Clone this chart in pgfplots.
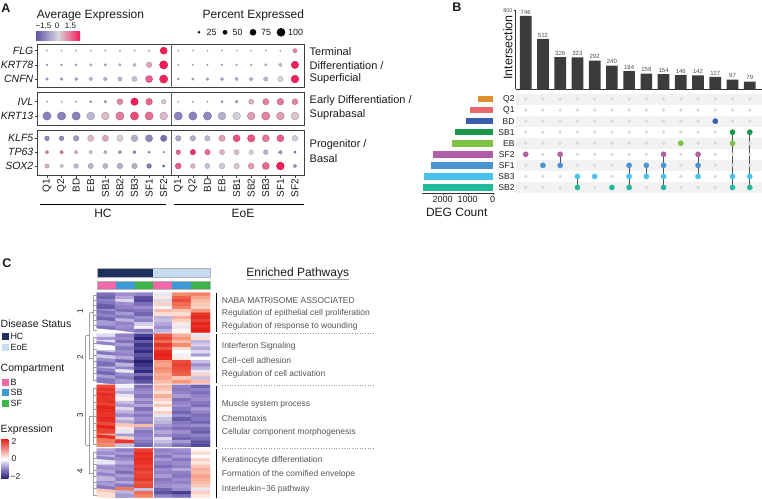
\documentclass[border=0pt]{standalone}
\usepackage{fontspec}
\setmainfont{Liberation Sans}
\usepackage{pgfplots}
\usepackage{pgfplotstable}
\pgfplotsset{compat=1.18}

\definecolor{txt}{HTML}{1A1A1A}
\definecolor{pathc}{HTML}{555555}
\definecolor{barc}{HTML}{3C3C3C}
\definecolor{bandc}{HTML}{F2F2F2}
\definecolor{gdot}{HTML}{D9D9D9}
\definecolor{linec}{HTML}{505050}
\definecolor{cQ2}{HTML}{E08F2E}
\definecolor{cQ1}{HTML}{E8696A}
\definecolor{cBD}{HTML}{3A5DAE}
\definecolor{cSB1}{HTML}{17984A}
\definecolor{cEB}{HTML}{7DC242}
\definecolor{cSF2}{HTML}{B35EA8}
\definecolor{cSF1}{HTML}{4A94D3}
\definecolor{cSB3}{HTML}{45C3EC}
\definecolor{cSB2}{HTML}{22B89A}
\definecolor{hcN}{HTML}{1C2F5E}
\definecolor{eoeL}{HTML}{C6DBF0}
\definecolor{cB}{HTML}{F068A8}
\definecolor{cSB}{HTML}{3D9AD9}
\definecolor{cSF}{HTML}{3BB54A}
\definecolor{dlo}{RGB}{98,84,170}
\definecolor{dmid}{RGB}{216,214,222}
\definecolor{dhi}{RGB}{242,28,86}
\definecolor{hlo}{RGB}{40,35,120}
\definecolor{hlav}{RGB}{145,130,200}
\definecolor{hsal}{RGB}{245,140,110}
\definecolor{hhi}{RGB}{228,32,24}

\newcommand{\fs}[1]{\fontsize{#1}{#1}\selectfont}

\pgfplotsset{
  colormap={dots}{rgb255=(98,84,170) rgb255=(216,214,222) rgb255=(242,28,86)},
  colormap={heat}{rgb255=(40,35,120) rgb255=(145,130,200) rgb255=(255,255,255) rgb255=(245,140,110) rgb255=(228,32,24)},
  dotbox/.style={scale only axis, anchor=north west, width=267pt,
    xmin=-0.685, xmax=17.62, clip=false,
    axis line style={black!75, line width=0.7pt},
    tick align=outside, major tick length=2.5pt,
    tick style={black!75, line width=0.6pt}, tick pos=left,
    yticklabel style={font=\fs{10.5}\itshape, inner sep=1pt},
    colormap name=dots, point meta min=-2, point meta max=2},
  dotplot/.style={scatter, only marks, mark=*, scatter src=explicit,
    visualization depends on={\thisrow{p}\as\pp},
    scatter/@pre marker code/.append style={/tikz/mark size={0.4+0.039*\pp}}},
  hm/.style={scale only axis, anchor=north west, width=113.3pt,
    xmin=-0.5, xmax=5.5, y dir=reverse, hide axis,
    colormap name=heat, point meta min=-2, point meta max=2},
}

% dot plot: x = column (0-8 HC, 9-17 EoE), y = gene row, p = percent, e = avg expression
\pgfplotstableread[row sep=\\]{
x y p e\\
0 2 8 -0.3\\ 1 2 8 -0.3\\ 2 2 8 -0.3\\ 3 2 8 -0.3\\ 4 2 9 -0.3\\ 5 2 9 -0.3\\ 6 2 10 -0.3\\ 7 2 14 -0.2\\ 8 2 80 2.2\\
9 2 6 -0.3\\ 10 2 6 -0.3\\ 11 2 6 -0.3\\ 12 2 6 -0.3\\ 13 2 6 -0.3\\ 14 2 7 -0.3\\ 15 2 7 -0.3\\ 16 2 8 -0.3\\ 17 2 42 0.9\\
0 1 15 -0.6\\ 1 1 15 -0.6\\ 2 1 18 -0.6\\ 3 1 22 -0.5\\ 4 1 22 -0.5\\ 5 1 25 -0.5\\ 6 1 35 -0.4\\ 7 1 62 0.5\\ 8 1 95 2.1\\
9 1 8 -0.4\\ 10 1 8 -0.4\\ 11 1 10 -0.4\\ 12 1 12 -0.4\\ 13 1 14 -0.4\\ 14 1 16 -0.4\\ 15 1 20 -0.4\\ 16 1 35 -0.3\\ 17 1 85 1.9\\
0 0 25 -0.7\\ 1 0 25 -0.7\\ 2 0 30 -0.7\\ 3 0 38 -0.5\\ 4 0 38 -0.5\\ 5 0 42 -0.5\\ 6 0 55 -0.3\\ 7 0 80 1.3\\ 8 0 95 1.9\\
9 0 18 -0.6\\ 10 0 20 -0.6\\ 11 0 25 -0.6\\ 12 0 33 -0.5\\ 13 0 33 -0.5\\ 14 0 38 -0.5\\ 15 0 45 -0.4\\ 16 0 60 0.0\\ 17 0 90 1.9\\
}\tabA
\pgfplotstableread[row sep=\\]{
x y p e\\
0 1 8 -0.4\\ 1 1 8 -0.4\\ 2 1 10 -0.5\\ 3 1 20 -0.8\\ 4 1 25 -0.7\\ 5 1 65 0.9\\ 6 1 85 2.1\\ 7 1 75 1.2\\ 8 1 50 0.2\\
9 1 6 -0.4\\ 10 1 7 -0.4\\ 11 1 8 -0.4\\ 12 1 20 -0.9\\ 13 1 25 -0.8\\ 14 1 55 0.4\\ 15 1 70 0.9\\ 16 1 75 1.0\\ 17 1 65 0.9\\
0 0 95 -1.3\\ 1 0 95 -1.3\\ 2 0 95 -1.3\\ 3 0 90 -0.5\\ 4 0 90 0.3\\ 5 0 95 1.0\\ 6 0 95 1.5\\ 7 0 95 1.1\\ 8 0 90 0.3\\
9 0 95 -1.3\\ 10 0 95 -1.3\\ 11 0 95 -1.2\\ 12 0 90 -0.6\\ 13 0 90 -0.1\\ 14 0 90 0.6\\ 15 0 95 0.9\\ 16 0 90 0.6\\ 17 0 90 0.2\\
}\tabB
\pgfplotstableread[row sep=\\]{
x y p e\\
0 2 50 -1.2\\ 1 2 50 -1.2\\ 2 2 60 -0.9\\ 3 2 70 0.3\\ 4 2 70 0.5\\ 5 2 70 0.1\\ 6 2 75 -0.6\\ 7 2 80 -1.2\\ 8 2 70 -1.6\\
9 2 60 -0.7\\ 10 2 60 -0.6\\ 11 2 60 -0.4\\ 12 2 70 0.6\\ 13 2 80 1.4\\ 14 2 85 1.4\\ 15 2 80 1.0\\ 16 2 80 1.3\\ 17 2 65 -0.1\\
0 1 35 0.9\\ 1 1 35 1.1\\ 2 1 40 0.5\\ 3 1 40 -0.2\\ 4 1 35 -0.4\\ 5 1 35 -0.8\\ 6 1 30 -1.2\\ 7 1 15 -1.5\\ 8 1 8 -1.4\\
9 1 50 1.2\\ 10 1 60 1.7\\ 11 1 60 1.1\\ 12 1 55 0.4\\ 13 1 55 0.3\\ 14 1 50 -0.1\\ 15 1 50 -0.5\\ 16 1 40 -0.9\\ 17 1 20 -1.4\\
0 0 45 0.4\\ 1 0 40 -0.1\\ 2 0 50 -0.4\\ 3 0 55 -0.5\\ 4 0 55 -0.5\\ 5 0 60 -0.6\\ 6 0 60 -0.6\\ 7 0 50 -1.4\\ 8 0 20 -1.6\\
9 0 65 1.3\\ 10 0 50 0.4\\ 11 0 55 -0.3\\ 12 0 60 -0.2\\ 13 0 60 0.2\\ 14 0 65 0.6\\ 15 0 80 1.2\\ 16 0 90 2.0\\ 17 0 35 -0.9\\
}\tabC

% heatmap clusters: six values per gene (HC B, SB, SF, EoE B, SB, SF)
\pgfplotstableread[header=false, row sep=\\]{
-1.2\\ -0.9\\ -1.0\\ -0.2\\ 1.0\\ 1.1\\
-1.3\\ -0.7\\ -1.5\\ 0.2\\ 1.4\\ 0.8\\
-1.0\\ -0.3\\ -1.6\\ -0.3\\ 1.6\\ 0.6\\
-1.1\\ -0.9\\ -1.2\\ 0.4\\ 1.3\\ 0.5\\
-1.4\\ -1.0\\ -0.9\\ -0.1\\ 1.1\\ 0.4\\
-0.9\\ -1.2\\ -1.1\\ 0.6\\ 0.5\\ 0.9\\
-1.2\\ -0.8\\ -1.3\\ 0.3\\ 0.3\\ 1.8\\
-1.0\\ -1.1\\ -0.9\\ -0.6\\ 0.7\\ 1.9\\
-1.3\\ -0.6\\ -1.0\\ -0.5\\ 0.4\\ 1.7\\
-0.8\\ -1.0\\ -0.4\\ -0.7\\ 0.2\\ 2.0\\
-1.1\\ -0.9\\ -0.1\\ -0.9\\ -0.2\\ 1.9\\
-1.2\\ -1.0\\ -1.1\\ -0.6\\ 0.1\\ 2.0\\
}\hmA
\pgfplotstableread[header=false, row sep=\\]{
-0.3\\ -1.0\\ -1.7\\ 1.5\\ 0.7\\ -0.2\\
-0.8\\ -0.9\\ -2.0\\ 1.7\\ 0.9\\ 0.3\\
-0.2\\ -1.2\\ -1.4\\ 1.3\\ 0.6\\ -0.6\\
-1.0\\ -0.8\\ -1.8\\ 1.8\\ 1.0\\ -0.4\\
0.0\\ -1.1\\ -1.6\\ 1.5\\ 0.3\\ -0.7\\
-0.5\\ -0.9\\ -1.9\\ 1.9\\ 0.0\\ -0.3\\
-1.1\\ -1.0\\ -1.5\\ 2.0\\ -0.1\\ -0.8\\
-0.4\\ -0.7\\ -1.7\\ 1.9\\ 0.2\\ 0.0\\
-0.9\\ -1.3\\ -2.0\\ 0.9\\ 1.6\\ -0.5\\
-1.2\\ -0.6\\ -1.8\\ 0.8\\ 1.7\\ -0.9\\
-0.6\\ -1.0\\ -1.6\\ 1.0\\ 1.6\\ -0.6\\
-1.0\\ -0.2\\ -1.9\\ 0.9\\ 1.5\\ -0.2\\
-1.3\\ -0.9\\ -1.2\\ 0.7\\ 1.4\\ 0.4\\
-0.8\\ -1.1\\ -1.7\\ 0.8\\ 0.5\\ -0.5\\
-1.1\\ -0.8\\ -1.5\\ 0.6\\ 0.9\\ 0.6\\
}\hmB
\pgfplotstableread[header=false, row sep=\\]{
1.6\\ -0.1\\ -1.2\\ 0.6\\ -1.0\\ -1.3\\
1.8\\ -0.4\\ -1.0\\ 0.5\\ -1.1\\ -1.0\\
1.7\\ -0.7\\ -0.9\\ 0.3\\ -1.0\\ -1.2\\
1.9\\ -0.2\\ -1.1\\ 0.7\\ -0.8\\ -1.0\\
1.8\\ 0.1\\ -0.8\\ 0.4\\ -1.2\\ -0.9\\
1.9\\ -0.5\\ -1.0\\ 0.2\\ -1.0\\ -1.1\\
1.7\\ -0.8\\ -0.7\\ 0.5\\ -0.9\\ -1.2\\
2.0\\ -0.3\\ -1.2\\ 0.1\\ -1.1\\ -0.8\\
1.9\\ -0.6\\ -0.9\\ 0.4\\ -1.3\\ -1.0\\
1.8\\ -0.9\\ -1.1\\ -0.2\\ -1.0\\ -1.2\\
2.0\\ -0.4\\ -0.9\\ -0.5\\ -1.4\\ -1.1\\
1.9\\ -0.7\\ -1.0\\ -0.6\\ -1.1\\ -1.3\\
1.6\\ 0.5\\ 0.6\\ -0.8\\ -1.0\\ -0.9\\
2.0\\ 0.2\\ -0.8\\ -1.0\\ -1.2\\ -1.2\\
1.7\\ -0.2\\ -1.1\\ -0.7\\ -0.9\\ -1.4\\
0.8\\ -0.8\\ -1.0\\ -0.9\\ -1.1\\ -1.0\\
1.9\\ 0.4\\ -0.9\\ -0.3\\ -1.3\\ -1.2\\
1.2\\ 1.8\\ -1.1\\ -0.5\\ -0.8\\ -1.5\\
1.0\\ -0.5\\ -1.3\\ -0.8\\ -1.2\\ -1.6\\
}\hmC
\pgfplotstableread[header=false, row sep=\\]{
-0.7\\ -1.0\\ 1.7\\ -1.0\\ -0.9\\ 0.1\\
-0.9\\ -0.8\\ 1.9\\ -0.9\\ -1.0\\ 0.3\\
-0.6\\ -1.1\\ 1.8\\ -1.1\\ -0.8\\ 0.0\\
-1.0\\ -0.9\\ 1.9\\ -0.8\\ -1.1\\ 0.4\\
-0.2\\ -0.7\\ 1.8\\ -1.0\\ -0.9\\ 0.2\\
-0.8\\ -1.0\\ 1.7\\ -1.2\\ -1.0\\ 0.5\\
-0.9\\ -0.9\\ 1.8\\ -0.9\\ -0.7\\ 0.7\\
-0.7\\ -1.2\\ 1.6\\ -1.0\\ -1.0\\ 0.6\\
-1.0\\ -0.8\\ 1.7\\ -0.8\\ -1.1\\ 0.8\\
-0.6\\ -1.0\\ 1.8\\ -1.1\\ -0.9\\ 0.7\\
-0.9\\ -0.7\\ 1.5\\ -1.0\\ -1.0\\ 0.6\\
-0.8\\ -1.1\\ 1.6\\ -0.9\\ -0.8\\ 0.5\\
-1.1\\ 1.2\\ -0.5\\ -1.3\\ -0.9\\ -0.2\\
0.5\\ -0.6\\ 1.3\\ -1.5\\ -1.7\\ 0.4\\
0.3\\ -0.8\\ 1.1\\ -1.0\\ -1.2\\ 0.2\\
}\hmD

\begin{document}
\begin{tikzpicture}[font=\fs{9}, text=txt]
\useasboundingbox (0,0) rectangle (762pt,-498pt);

%%%%% Panel A
\begin{axis}[dotbox, at={(37pt,-44pt)}, height=43.7pt, ymin=-0.61, ymax=2.47,
  xtick=\empty, ytick={0,1,2}, yticklabels={CNFN,KRT78,FLG}]
\addplot[dotplot] table[x=x, y=y, meta=e] \tabA;
\draw[black!65, line width=0.6pt] (axis cs:8.5,-0.61) -- (axis cs:8.5,2.47);
\end{axis}

\begin{axis}[dotbox, at={(37pt,-92.3pt)}, height=32.7pt, ymin=-0.63, ymax=1.66,
  xtick=\empty, ytick={0,1}, yticklabels={KRT13,IVL}]
\addplot[dotplot] table[x=x, y=y, meta=e] \tabB;
\draw[black!65, line width=0.6pt] (axis cs:8.5,-0.63) -- (axis cs:8.5,1.66);
\end{axis}

\begin{axis}[dotbox, at={(37pt,-130.7pt)}, height=44.3pt, ymin=-0.65, ymax=2.55,
  ytick={0,1,2}, yticklabels={SOX2,TP63,KLF5},
  xtick={0,...,17},
  xticklabels={Q1,Q2,BD,EB,SB1,SB2,SB3,SF1,SF2,Q1,Q2,BD,EB,SB1,SB2,SB3,SF1,SF2},
  xticklabel style={rotate=90, anchor=east, font=\fs{10}, inner sep=1pt}]
\addplot[dotplot] table[x=x, y=y, meta=e] \tabC;
\draw[black!65, line width=0.6pt] (axis cs:8.5,-0.65) -- (axis cs:8.5,2.55);
\end{axis}

\begin{scope}[x=1pt, y=-1pt]
\node[font=\bfseries\fs{12.5}] at (6,8) {A};
\node[font=\fs{12}] at (90.5,15) {Average Expression};
\node[font=\fs{12}] at (253.3,15) {Percent Expressed};
\shade[left color=dlo, right color=dhi, middle color=dmid] (36,31) rectangle (80,40);
\node[font=\fs{8}] at (43.5,26) {−1.5};
\node[font=\fs{8}] at (57,26) {0};
\node[font=\fs{8}] at (70.5,26) {1.5};
\fill[black] (199,32.3) circle (1.4pt);
\fill[black] (225,32.3) circle (2.35pt);
\fill[black] (253,32.3) circle (3.3pt);
\fill[black] (281,32.3) circle (4.3pt);
\node[font=\fs{9}, anchor=west, inner sep=0pt] at (206.5,32.3) {25};
\node[font=\fs{9}, anchor=west, inner sep=0pt] at (232.5,32.3) {50};
\node[font=\fs{9}, anchor=west, inner sep=0pt] at (261,32.3) {75};
\node[font=\fs{9}, anchor=west, inner sep=0pt] at (288,32.3) {100};
\draw[black, line width=0.7pt] (40,204) -- (166,204);
\draw[black, line width=0.7pt] (174,204) -- (304,204);
\node[font=\fs{12}] at (103,213) {HC};
\node[font=\fs{12}] at (243,213) {EoE};
\begin{scope}[every node/.style={anchor=west, font=\fs{11}, inner sep=0pt}]
\node at (309.5,52) {Terminal};
\node at (309.5,65.3) {Differentiation /};
\node at (309.5,78.7) {Superficial};
\node at (309.5,100.5) {Early Differentiation /};
\node at (309.5,114.5) {Suprabasal};
\node at (309.5,144.3) {Progenitor /};
\node at (309.5,158.3) {Basal};
\end{scope}
\end{scope}

%%%%% Panel B
\begin{axis}[scale only axis, anchor=north west, at={(515.7pt,-10.5pt)},
  width=246.3pt, height=78.8pt, xmin=0.42, xmax=14.71, ymin=0, ymax=800,
  axis x line*=bottom, axis y line*=left,
  axis line style={-, black!80, line width=0.6pt},
  xtick=\empty, ytick={800}, yticklabels={800},
  yticklabel style={font=\fs{5.5}, text=black!70, inner sep=1pt},
  tick align=outside, major tick length=2pt, tick style={black!80},
  /pgf/number format/assume math mode=true, clip=false]
\addplot[ybar, bar width=11.7pt, fill=barc, draw=none,
  nodes near coords, nodes near coords style={font=\fs{6}, text=black!70, inner sep=1.5pt}]
  coordinates {(1,746)(2,512)(3,326)(4,323)(5,292)(6,240)(7,184)(8,158)(9,154)(10,146)(11,142)(12,127)(13,97)(14,79)};
\end{axis}

% rows: SB2 0, SB3 1, SF1 2, SF2 3, EB 4, SB1 5, BD 6, Q1 7, Q2 8
\begin{axis}[scale only axis, anchor=north west, at={(515.7pt,-93.5pt)},
  width=246.3pt, height=99.5pt, xmin=0.42, xmax=14.71, ymin=-0.5, ymax=8.5,
  hide axis, clip=false]
\fill[bandc] (axis cs:0.42,7.5) rectangle (axis cs:14.71,8.5);
\fill[bandc] (axis cs:0.42,5.5) rectangle (axis cs:14.71,6.5);
\fill[bandc] (axis cs:0.42,3.5) rectangle (axis cs:14.71,4.5);
\fill[bandc] (axis cs:0.42,1.5) rectangle (axis cs:14.71,2.5);
\fill[bandc] (axis cs:0.42,-0.5) rectangle (axis cs:14.71,0.5);
\pgfplotsinvokeforeach{0,...,8}{
\addplot[only marks, mark=*, mark size=1.5pt, color=gdot]
  coordinates {(1,#1)(2,#1)(3,#1)(4,#1)(5,#1)(6,#1)(7,#1)(8,#1)(9,#1)(10,#1)(11,#1)(12,#1)(13,#1)(14,#1)};
}
\addplot[line width=1.1pt, color=linec] coordinates {(3,3)(3,2)};
\addplot[line width=1.1pt, color=linec] coordinates {(4,1)(4,0)};
\addplot[line width=1.1pt, color=linec] coordinates {(7,2)(7,0)};
\addplot[line width=1.1pt, color=linec] coordinates {(8,2)(8,1)};
\addplot[line width=1.1pt, color=linec] coordinates {(9,3)(9,0)};
\addplot[line width=1.1pt, color=linec] coordinates {(11,3)(11,1)};
\addplot[line width=1.1pt, color=linec] coordinates {(13,5)(13,0)};
\addplot[line width=1.1pt, color=linec] coordinates {(14,5)(14,0)};
\addplot[only marks, mark=*, mark size=2.6pt, color=cSF2] coordinates {(1,3)(3,3)(9,3)(11,3)};
\addplot[only marks, mark=*, mark size=2.6pt, color=cSF1] coordinates {(2,2)(3,2)(7,2)(8,2)(9,2)(11,2)};
\addplot[only marks, mark=*, mark size=2.6pt, color=cSB3] coordinates {(4,1)(5,1)(7,1)(8,1)(9,1)(11,1)(13,1)(14,1)};
\addplot[only marks, mark=*, mark size=2.6pt, color=cSB2] coordinates {(4,0)(6,0)(7,0)(9,0)(13,0)(14,0)};
\addplot[only marks, mark=*, mark size=2.6pt, color=cEB] coordinates {(10,4)(13,4)};
\addplot[only marks, mark=*, mark size=2.6pt, color=cBD] coordinates {(12,6)};
\addplot[only marks, mark=*, mark size=2.6pt, color=cSB1] coordinates {(13,5)(14,5)};
\end{axis}

\begin{axis}[scale only axis, anchor=north west, at={(421.7pt,-93.5pt)},
  width=71pt, height=99.5pt, xmin=0, xmax=2840, x dir=reverse,
  ymin=-0.5, ymax=8.5, axis line style={draw=none},
  xtick={0,1000,2000}, xticklabels={0,1000,2000},
  xticklabel style={font=\fs{9}, inner sep=1.5pt},
  ytick={0,...,8}, yticklabels={SB2,SB3,SF1,SF2,EB,SB1,BD,Q1,Q2},
  yticklabel pos=right,
  yticklabel style={font=\fs{8.5}, anchor=east, xshift=20pt, inner sep=0pt},
  xtick pos=bottom, tick align=outside, major tick length=2pt,
  x tick style={black!80}, y tick style={draw=none}, clip=false]
\draw[black!80, line width=0.6pt] (axis cs:0,-0.5) -- (axis cs:2840,-0.5);
\addplot[xbar, bar shift=0pt, bar width=6.5pt, fill=cSB2, draw=none] coordinates {(2800,0)};
\addplot[xbar, bar shift=0pt, bar width=6.5pt, fill=cSB3, draw=none] coordinates {(2748,1)};
\addplot[xbar, bar shift=0pt, bar width=6.5pt, fill=cSF1, draw=none] coordinates {(2468,2)};
\addplot[xbar, bar shift=0pt, bar width=6.5pt, fill=cSF2, draw=none] coordinates {(2400,3)};
\addplot[xbar, bar shift=0pt, bar width=6.5pt, fill=cEB, draw=none] coordinates {(1616,4)};
\addplot[xbar, bar shift=0pt, bar width=6.5pt, fill=cSB1, draw=none] coordinates {(1508,5)};
\addplot[xbar, bar shift=0pt, bar width=6.5pt, fill=cBD, draw=none] coordinates {(1080,6)};
\addplot[xbar, bar shift=0pt, bar width=6.5pt, fill=cQ1, draw=none] coordinates {(908,7)};
\addplot[xbar, bar shift=0pt, bar width=6.5pt, fill=cQ2, draw=none] coordinates {(600,8)};
\end{axis}

\begin{scope}[x=1pt, y=-1pt]
\node[font=\bfseries\fs{12.5}] at (457,7.5) {B};
\node[font=\fs{12.5}, rotate=90] at (508,47.5) {Intersection};
\node[font=\fs{12}] at (456.7,212.7) {DEG Count};
\end{scope}

%%%%% Panel C heatmap
\begin{axis}[hm, at={(96.7pt,-292.7pt)}, height=39.6pt, ymin=-0.5, ymax=11.5]
\addplot[matrix plot*, mesh/cols=6, point meta=explicit]
  table[x index=0, y index=0, meta index=0, x expr={mod(\coordindex,6)}, y expr={floor(\coordindex/6)}] \hmA;
\draw[white, line width=1.3pt] (axis cs:2.5,-0.5) -- (axis cs:2.5,11.5);
\end{axis}
\begin{axis}[hm, at={(96.7pt,-333.7pt)}, height=49.6pt, ymin=-0.5, ymax=14.5]
\addplot[matrix plot*, mesh/cols=6, point meta=explicit]
  table[x index=0, y index=0, meta index=0, x expr={mod(\coordindex,6)}, y expr={floor(\coordindex/6)}] \hmB;
\draw[white, line width=1.3pt] (axis cs:2.5,-0.5) -- (axis cs:2.5,14.5);
\end{axis}
\begin{axis}[hm, at={(96.7pt,-384.8pt)}, height=62pt, ymin=-0.5, ymax=18.5]
\addplot[matrix plot*, mesh/cols=6, point meta=explicit]
  table[x index=0, y index=0, meta index=0, x expr={mod(\coordindex,6)}, y expr={floor(\coordindex/6)}] \hmC;
\draw[white, line width=1.3pt] (axis cs:2.5,-0.5) -- (axis cs:2.5,18.5);
\end{axis}
\begin{axis}[hm, at={(96.7pt,-448.6pt)}, height=48.9pt, ymin=-0.5, ymax=14.5]
\addplot[matrix plot*, mesh/cols=6, point meta=explicit]
  table[x index=0, y index=0, meta index=0, x expr={mod(\coordindex,6)}, y expr={floor(\coordindex/6)}] \hmD;
\draw[white, line width=1.3pt] (axis cs:2.5,-0.5) -- (axis cs:2.5,14.5);
\end{axis}

\begin{scope}[x=1pt, y=-1pt]
\node[font=\bfseries\fs{12.5}] at (7,263.3) {C};
% annotation bars
\fill[hcN] (96.7,268.3) rectangle (153.3,277.3);
\fill[eoeL] (153.3,268.3) rectangle (210,277.3);
\draw[gray!60, line width=0.4pt] (96.7,268.3) rectangle (210,277.3);
\fill[cB] (96.7,280.7) rectangle (115.6,289.3);
\fill[cSB] (115.6,280.7) rectangle (134.5,289.3);
\fill[cSF] (134.5,280.7) rectangle (153.3,289.3);
\fill[cB] (153.3,280.7) rectangle (172.2,289.3);
\fill[cSB] (172.2,280.7) rectangle (191.1,289.3);
\fill[cSF] (191.1,280.7) rectangle (210,289.3);
\draw[gray!60, line width=0.4pt] (96.7,280.7) rectangle (210,289.3);
% dendrogram
\begin{scope}[draw=gray!75, line width=0.4pt]
\draw (93,295) -- (93,330);
\foreach \yy in {295,300,305,310,315,320,325,330} \draw (93,\yy) -- (96.5,\yy);
\draw (93,337) -- (93,380);
\foreach \yy in {337,343,349,355,361,367,373,380} \draw (93,\yy) -- (96.5,\yy);
\draw (93,388) -- (93,444);
\foreach \yy in {388,395,402,409,416,423,430,437,444} \draw (93,\yy) -- (96.5,\yy);
\draw (93,452) -- (93,495);
\foreach \yy in {452,458,464,470,476,482,488,495} \draw (93,\yy) -- (96.5,\yy);
\draw (89.5,312.5) -- (93,312.5);
\draw (89.5,358.5) -- (93,358.5);
\draw (89.5,312.5) -- (89.5,358.5);
\draw (89.5,416) -- (93,416);
\draw (89.5,473.5) -- (93,473.5);
\draw (89.5,416) -- (89.5,473.5);
\draw (85.5,335.5) -- (89.5,335.5);
\draw (85.5,444.8) -- (89.5,444.8);
\draw (85.5,335.5) -- (85.5,444.8);
\end{scope}
\node[font=\fs{8}, rotate=90] at (80,311.7) {1};
\node[font=\fs{8}, rotate=90] at (80,357) {2};
\node[font=\fs{8}, rotate=90] at (80,415.7) {3};
\node[font=\fs{8}, rotate=90] at (80,471.7) {4};
% pathways
\node[font=\fs{12}] at (297.7,273.7) {Enriched Pathways};
\draw[gray!70, line width=0.6pt] (246.5,279.3) -- (349,279.3);
\draw[black, line width=0.8pt] (216.7,293.3) -- (216.7,332);
\draw[black, line width=0.8pt] (216.7,334.2) -- (216.7,383.3);
\draw[black, line width=0.8pt] (216.7,385.7) -- (216.7,446.7);
\draw[black, line width=0.8pt] (216.7,449) -- (216.7,498);
\draw[gray!80, dotted, line width=0.6pt] (222,332.9) -- (375,332.9);
\draw[gray!80, dotted, line width=0.6pt] (222,385.5) -- (375,385.5);
\draw[gray!80, dotted, line width=0.6pt] (222,448.2) -- (375,448.2);
\begin{scope}[every node/.style={anchor=west, font=\fs{8.5}, text=pathc, inner sep=0pt}]
\node at (221.7,300.7) {NABA MATRISOME ASSOCIATED};
\node at (221.7,313.3) {Regulation of epithelial cell proliferation};
\node at (221.7,326) {Regulation of response to wounding};
\node at (221.7,346) {Interferon Signaling};
\node at (221.7,360) {Cell−cell adhesion};
\node at (221.7,374) {Regulation of cell activation};
\node at (221.7,404) {Muscle system process};
\node at (221.7,418) {Chemotaxis};
\node at (221.7,432.7) {Cellular component morphogenesis};
\node at (221.7,460.7) {Keratinocyte differentiation};
\node at (221.7,474.7) {Formation of the cornified envelope};
\node at (221.7,489) {Interleukin−36 pathway};
\end{scope}
% legends
\begin{scope}[every node/.style={anchor=west, inner sep=0pt}]
\node[font=\fs{10.5}] at (0.5,323.3) {Disease Status};
\fill[hcN] (1.7,333.3) rectangle (8.7,340);
\node[font=\fs{9}] at (10.3,336.7) {HC};
\fill[eoeL] (1.7,344) rectangle (8.7,350.7);
\node[font=\fs{9}] at (10.3,347.3) {EoE};
\node[font=\fs{10.5}] at (0.5,369.3) {Compartment};
\fill[cB] (1.7,379.3) rectangle (8.7,386);
\node[font=\fs{9}] at (10.3,382.7) {B};
\fill[cSB] (1.7,389.3) rectangle (8.7,396);
\node[font=\fs{9}] at (10.3,392.7) {SB};
\fill[cSF] (1.7,400) rectangle (8.7,406.7);
\node[font=\fs{9}] at (10.3,403.3) {SF};
\node[font=\fs{10.5}] at (0.5,429.3) {Expression};
\shade[top color=hhi, bottom color=white] (1.2,439.3) rectangle (8.3,459);
\shade[top color=white, bottom color=hlo, middle color=hlav] (1.2,459) rectangle (8.3,478.3);
\node[font=\fs{8.5}] at (11.5,441.7) {2};
\node[font=\fs{8.5}] at (11.5,459) {0};
\node[font=\fs{8.5}] at (10.5,476.7) {−2};
\end{scope}
\end{scope}
\end{tikzpicture}
\end{document}
